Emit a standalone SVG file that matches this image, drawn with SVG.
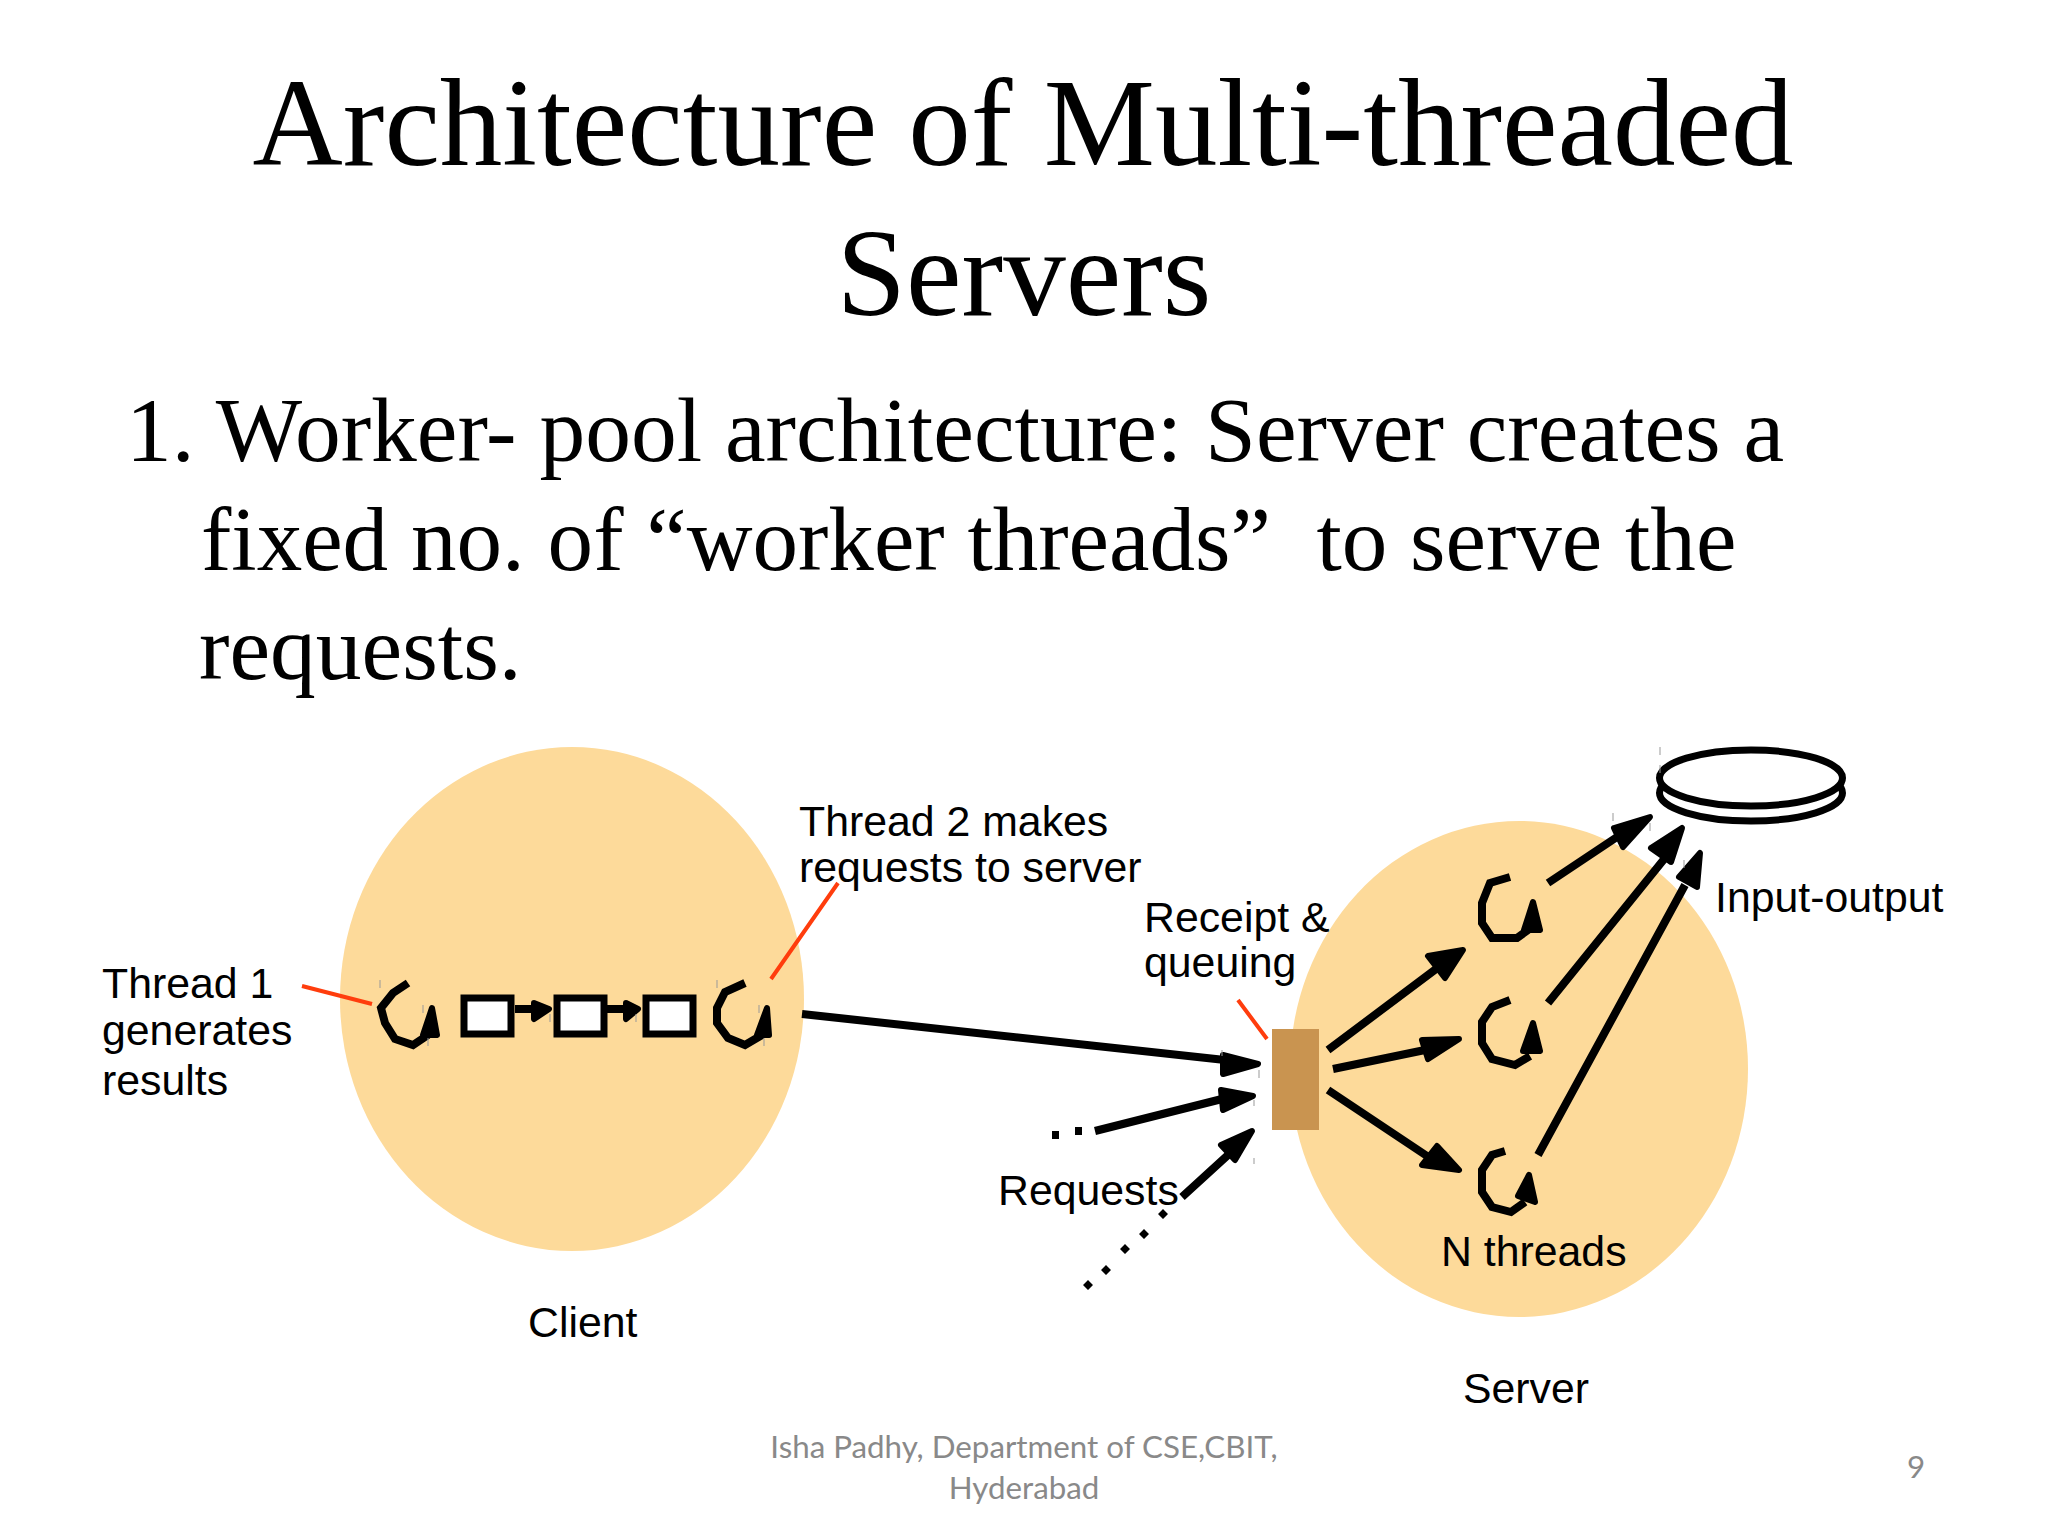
<svg xmlns="http://www.w3.org/2000/svg" width="2048" height="1536" viewBox="0 0 2048 1536">
<style>
.title{font-family:"Liberation Serif","Times New Roman",serif;font-size:125px;fill:#000;text-anchor:middle}
.body{font-family:"Liberation Serif","Times New Roman",serif;font-size:91.5px;fill:#000}
.lbl{font-family:"Liberation Sans",Arial,sans-serif;font-size:42.8px;fill:#000}
.foot{font-family:Lato,"Open Sans",sans-serif;font-size:31.3px;fill:#898989;text-anchor:middle}
.ln{fill:none;stroke:#000;stroke-width:8}
.th{fill:none;stroke:#000;stroke-width:8;stroke-linejoin:miter}
.hd{fill:#000;stroke:#000;stroke-width:6;stroke-linejoin:round}
.red{fill:none;stroke:#ff3d0d;stroke-width:4}
.bx{fill:#fff;stroke:#000;stroke-width:7}
.tick{fill:none;stroke:#999;stroke-width:1}
.dot{fill:#000}
</style>
<rect width="2048" height="1536" fill="#fff"/>
<g id="title">
<text class="title" x="1023" y="165">Architecture of Multi-threaded</text>
<text class="title" x="1024" y="315">Servers</text>
</g>
<g id="body">
<text class="body" x="126" y="461">1. Worker- pool architecture: Server creates a</text>
<text class="body" x="201" y="570" style="font-size:91.1px" xml:space="preserve">fixed no. of “worker threads”  to serve the</text>
<text class="body" x="199" y="679">requests.</text>
</g>
<g id="client"><ellipse cx="572" cy="999" rx="232" ry="252" fill="#fdda9a"/><text class="lbl" x="528" y="1337">Client</text></g>
<g id="server"><ellipse cx="1519" cy="1069" rx="229" ry="248" fill="#fdda9a"/><text class="lbl" x="1463" y="1403">Server</text></g>
<g id="connectors">
<path class="red" d="M302 986L372 1004M838 883L771 979M1238 1000L1267 1039"/>
<path class="ln" d="M802 1014L1225 1060M1095 1131L1222 1099M1182 1197L1228 1155M1328 1050L1440 966M1333 1069L1425 1050M1328 1090L1430 1158M1548 883L1620 835M1548 1003L1665 858M1538 1155L1685 885"/>
<path class="ln" d="M515 1009H535M600 1009H627"/>
<polygon class="hd" points="1223,1055 1258,1064 1223,1074"/>
<polygon class="hd" points="1221,1090 1253,1096 1223,1110"/>
<polygon class="hd" points="1221,1145 1252,1131 1235,1160"/>
<polygon class="hd" points="1463,950 1445,978 1428,956"/>
<polygon class="hd" points="1422,1040 1459,1039 1428,1059"/>
<polygon class="hd" points="1437,1146 1459,1170 1422,1165"/>
<polygon class="hd" points="1614,828 1650,817 1623,847"/>
<polygon class="hd" points="1651,848 1682,828 1671,862"/>
<polygon class="hd" points="1679,877 1700,853 1697,887"/>
<polygon class="hd" points="534,1003 549,1009 534,1019"/>
<polygon class="hd" points="626,1003 638,1009 626,1019"/>
<path class="dot" d="M1075 1127h7v8h-7zM1052 1131h7v8h-7z"/>
<path class="dot" d="M1163 1209l5 5-5 5-5-5zM1144 1229l5 5-5 5-5-5zM1125 1244l5 5-5 5-5-5zM1106 1265l5 5-5 5-5-5zM1088 1280l5 5-5 5-5-5z"/>
</g>
<g id="thread1"><polyline class="th" points="408,983 393,993 381,1008 385,1023 395,1039 413,1045 428,1035"/><polygon class="hd" points="432,1008 437,1035 423,1035"/></g>
<g id="thread2"><polyline class="th" points="745,983 725,992 717,1008 717,1023 728,1038 745,1045 762,1035"/><polygon class="hd" points="767,1008 769,1035 757,1035"/></g>
<g id="queue1"><rect class="bx" x="464" y="998" width="47" height="36"/></g>
<g id="queue2"><rect class="bx" x="557" y="998" width="47" height="36"/></g>
<g id="queue3"><rect class="bx" x="646" y="998" width="47" height="36"/></g>
<g id="queue-box"><rect x="1272" y="1029" width="47" height="101" fill="#c99450"/></g>
<g id="worker1"><polyline class="th" points="1510,877 1490,883 1482,903 1482,923 1492,938 1517,938 1528,930"/><polygon class="hd" points="1533,902 1540,930 1524,930"/></g>
<g id="worker2"><polyline class="th" points="1510,1000 1492,1007 1482,1022 1482,1043 1492,1059 1515,1065 1530,1056"/><polygon class="hd" points="1533,1023 1540,1051 1523,1051"/></g>
<g id="worker3"><polyline class="th" points="1505,1151 1492,1155 1482,1170 1482,1192 1492,1207 1511,1212 1525,1202"/><polygon class="hd" points="1529,1175 1535,1202 1518,1196"/></g>
<g id="disk"><ellipse cx="1751" cy="793" rx="91.5" ry="28" fill="#fff" stroke="#000" stroke-width="7"/><ellipse cx="1751" cy="778" rx="91.5" ry="28" fill="#fff" stroke="#000" stroke-width="7"/></g>
<g id="ticks"><path class="tick" d="M380 980v8M423 1005v8M428 1038v8M550 1014v8M636 1014v8M717 980v8M759 1005v8M764 1038v8M1660 747v8M1660 765v8M1613 813v8M1650 823v8M1684 860v8M1222 1050v6M1259 1070v8M1254 1100v6M1254 1158v6"/></g>
<g id="labels">
<text class="lbl" x="102" y="998">Thread 1</text>
<text class="lbl" x="102" y="1045">generates</text>
<text class="lbl" x="102" y="1095">results</text>
<text class="lbl" x="799" y="836">Thread 2 makes</text>
<text class="lbl" x="799" y="882">requests to server</text>
<text class="lbl" x="1144" y="932">Receipt &amp;</text>
<text class="lbl" x="1144" y="977">queuing</text>
<text class="lbl" x="1715" y="912">Input-output</text>
<text class="lbl" x="998" y="1205">Requests</text>
<text class="lbl" x="1441" y="1266">N threads</text>
</g>
<g id="footer">
<text class="foot" x="1024" y="1458">Isha Padhy, Department of CSE,CBIT,</text>
<text class="foot" x="1024" y="1499">Hyderabad</text>
<text class="foot" x="1916" y="1478">9</text>
</g>
</svg>
